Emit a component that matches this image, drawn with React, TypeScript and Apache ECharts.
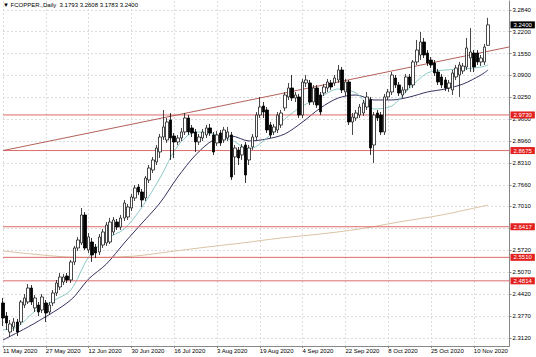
import React, { useEffect, useRef } from 'react';
import * as echarts from 'echarts';

// ---------- data ----------
const headerText = '\u25BC FCOPPER.,Daily  3.1793 3.2608 3.1783 3.2400';

// trading-day categories (MT4 bars), 11 May 2020 .. 16 Nov 2020, plus empty space on the right
const firstDay = '2020-05-11';
const extraBarDays = ['2020-10-25'];
const barCount = 137;
const totalSlots = 143;

// right axis ticks; the 2.6370 label is hidden under the 2.6417 price tag in the original
const yTicks = [2.312, 2.377, 2.442, 2.507, 2.572, 2.637, 2.702, 2.766, 2.831, 2.896, 2.961, 3.025, 3.09, 3.155, 3.22, 3.284];
const yTickLabels = ['2.3120', '2.3770', '2.4420', '2.5070', '2.5720', '', '2.7010', '2.7660', '2.8310', '2.8960', '2.9600', '3.0250', '3.0900', '3.1550', '3.2200', '3.2840'];
const yMin = 2.2883;
const yMax = 3.3107;

// horizontal support / resistance levels
const levels = [2.973, 2.8675, 2.6417, 2.551, 2.4814];
const lastPrice = 3.24;
// trend line: [barIndex, price] at both ends
const trendStart: [number, number] = [0, 2.8674];
const trendEnd: [number, number] = [142, 3.1747];

// daily bars: [open, high, low, close]
const ohlc: number[][] = [
  [2.4158, 2.4306, 2.3476, 2.3713],
  [2.3772, 2.3891, 2.3358, 2.3565],
  [2.3298, 2.3654, 2.315, 2.3535],
  [2.3446, 2.3713, 2.3328, 2.3594],
  [2.3594, 2.3683, 2.318, 2.3298],
  [2.3594, 2.4246, 2.3506, 2.4187],
  [2.4098, 2.4424, 2.401, 2.4306],
  [2.4187, 2.4721, 2.4128, 2.4602],
  [2.4602, 2.4691, 2.4098, 2.4187],
  [2.401, 2.4395, 2.3891, 2.4306],
  [2.4098, 2.4187, 2.3772, 2.3891],
  [2.395, 2.4424, 2.3861, 2.4335],
  [2.4158, 2.4246, 2.3594, 2.3861],
  [2.3891, 2.4187, 2.3802, 2.4098],
  [2.4158, 2.4543, 2.4069, 2.4454],
  [2.4454, 2.4839, 2.4365, 2.475],
  [2.4632, 2.5046, 2.4543, 2.4928],
  [2.478, 2.5017, 2.4691, 2.4928],
  [2.4958, 2.5046, 2.475, 2.4839],
  [2.4839, 2.5432, 2.475, 2.5373],
  [2.5373, 2.5847, 2.5284, 2.5788],
  [2.5788, 2.6114, 2.5699, 2.6025],
  [2.5936, 2.6973, 2.5876, 2.6766],
  [2.6766, 2.6854, 2.5728, 2.5788],
  [2.5728, 2.6232, 2.5639, 2.6114],
  [2.5965, 2.6084, 2.5373, 2.558],
  [2.5817, 2.5906, 2.5491, 2.5639],
  [2.5669, 2.6202, 2.558, 2.6114],
  [2.5876, 2.6351, 2.5788, 2.6262],
  [2.5936, 2.6558, 2.5847, 2.6469],
  [2.5965, 2.6677, 2.5906, 2.6558],
  [2.6262, 2.6706, 2.6173, 2.6617],
  [2.6558, 2.6647, 2.6321, 2.641],
  [2.641, 2.6766, 2.6321, 2.6677],
  [2.6677, 2.721, 2.6588, 2.7121],
  [2.6706, 2.7091, 2.6617, 2.7003],
  [2.6973, 2.7388, 2.6884, 2.7299],
  [2.7269, 2.7655, 2.718, 2.7566],
  [2.7595, 2.7684, 2.7358, 2.7447],
  [2.7447, 2.7536, 2.7003, 2.721],
  [2.7269, 2.7921, 2.718, 2.7862],
  [2.7803, 2.8247, 2.7714, 2.8158],
  [2.8099, 2.8485, 2.801, 2.8396],
  [2.8336, 2.884, 2.8247, 2.8751],
  [2.8633, 2.9166, 2.8455, 2.9077],
  [2.9077, 2.9877, 2.8989, 2.9374],
  [2.8989, 2.964, 2.89, 2.9522],
  [2.9581, 2.9788, 2.8396, 2.9048],
  [2.9107, 2.9196, 2.8455, 2.8929],
  [2.8929, 2.9137, 2.884, 2.9048],
  [2.9048, 2.9344, 2.8959, 2.9226],
  [2.9226, 2.9788, 2.9137, 2.964],
  [2.964, 2.9729, 2.9137, 2.9226],
  [2.9344, 2.9433, 2.9077, 2.9196],
  [2.9226, 2.9314, 2.8633, 2.8929],
  [2.8929, 2.9166, 2.884, 2.9077],
  [2.9048, 2.9314, 2.8959, 2.9226],
  [2.9137, 2.9433, 2.9048, 2.9344],
  [2.9344, 2.9463, 2.9107, 2.9196],
  [2.9137, 2.9226, 2.8544, 2.8633],
  [2.89, 2.9255, 2.8811, 2.9137],
  [2.9196, 2.9285, 2.8811, 2.89],
  [2.8989, 2.9374, 2.89, 2.9285],
  [2.9048, 2.9374, 2.8959, 2.9226],
  [2.9137, 2.9226, 2.7803, 2.7892],
  [2.8485, 2.884, 2.7951, 2.8751],
  [2.8692, 2.8781, 2.8247, 2.8455],
  [2.8544, 2.887, 2.8396, 2.8781],
  [2.884, 2.8929, 2.7714, 2.7951],
  [2.8396, 2.884, 2.8247, 2.8751],
  [2.8781, 2.9166, 2.8692, 2.9077],
  [2.9077, 2.9818, 2.8989, 2.9729],
  [2.9729, 3.0263, 2.964, 2.9966],
  [2.9996, 3.0114, 2.964, 2.9818],
  [2.9877, 2.9966, 2.9196, 2.9285],
  [2.9433, 2.9522, 2.9048, 2.9137],
  [2.9226, 2.9463, 2.9137, 2.9374],
  [2.9285, 2.9818, 2.9196, 2.9729],
  [2.9433, 2.9877, 2.9344, 2.9788],
  [2.9937, 3.0411, 2.9848, 3.0322],
  [3.0263, 3.0677, 3.0174, 3.0529],
  [3.0529, 3.0914, 3.0144, 3.0233],
  [3.0233, 3.0411, 3.0114, 3.0322],
  [3.0263, 3.0351, 2.964, 2.9729],
  [2.9729, 3.0796, 2.964, 3.0707],
  [3.0677, 3.0914, 3.0559, 3.0766],
  [3.0677, 3.0766, 3.0025, 3.0114],
  [3.0114, 3.0618, 3.0025, 3.0529],
  [3.0529, 3.0618, 2.9937, 3.0025],
  [3.0322, 3.0411, 2.9729, 2.9818],
  [3.0381, 3.0648, 3.0292, 3.0559],
  [3.0529, 3.0796, 3.0411, 3.0707],
  [3.0677, 3.0766, 3.047, 3.0559],
  [3.0677, 3.0914, 3.0589, 3.0826],
  [3.0766, 3.1211, 3.0677, 3.1063],
  [3.1063, 3.1151, 3.0381, 3.047],
  [3.0411, 3.0796, 3.0292, 3.0707],
  [3.0707, 3.0766, 2.9433, 2.9522],
  [2.9522, 2.9788, 2.9137, 2.967],
  [2.964, 2.9877, 2.9551, 2.9788],
  [2.9729, 3.0055, 2.964, 2.9966],
  [2.9788, 3.0174, 2.97, 3.0085],
  [2.9966, 3.0411, 2.9877, 3.0263],
  [3.0174, 3.0263, 2.8544, 2.8751],
  [2.884, 2.9818, 2.8307, 2.9729],
  [2.9788, 2.9877, 2.9551, 2.964],
  [2.9729, 2.9818, 2.9137, 2.9226],
  [2.9226, 3.0351, 2.9137, 3.0263],
  [3.0263, 3.05, 3.0174, 3.0411],
  [3.0411, 3.1003, 3.0322, 3.0914],
  [3.0826, 3.0914, 3.0529, 3.0618],
  [3.0618, 3.0707, 3.0292, 3.0381],
  [3.0322, 3.0559, 3.0233, 3.047],
  [3.047, 3.0944, 3.0381, 3.0855],
  [3.0855, 3.0944, 3.0529, 3.0618],
  [3.0618, 3.1359, 3.0529, 3.13],
  [3.13, 3.1952, 3.1211, 3.1655],
  [3.1507, 3.2189, 3.1359, 3.1892],
  [3.1892, 3.2011, 3.1418, 3.1507],
  [3.1566, 3.1655, 3.1181, 3.127],
  [3.1359, 3.1448, 3.1122, 3.1211],
  [3.127, 3.1359, 3.0885, 3.0974],
  [3.1003, 3.1092, 3.0618, 3.0707],
  [3.0855, 3.0944, 3.0529, 3.0618],
  [3.0766, 3.0855, 3.044, 3.0529],
  [3.0529, 3.0766, 3.0411, 3.0677],
  [3.047, 3.1063, 3.0322, 3.0974],
  [3.0855, 3.1211, 3.0766, 3.1122],
  [3.0914, 3.13, 3.0263, 3.1211],
  [3.1033, 3.127, 3.0944, 3.1181],
  [3.1151, 3.2011, 3.1063, 3.1715],
  [3.1418, 3.2307, 3.1003, 3.1596],
  [3.1566, 3.1655, 3.1003, 3.1151],
  [3.1566, 3.1655, 3.1211, 3.13],
  [3.13, 3.1507, 3.1181, 3.1418],
  [3.13, 3.1833, 3.1211, 3.1744],
  [3.1793, 3.2608, 3.1783, 3.24],
];

// moving averages: [barIndex, value]
const maFast: [number, number][] = [
  [0, 2.3358], [4, 2.3446], [9, 2.392], [14, 2.4217], [19, 2.4543], [24, 2.5521], [29, 2.6055],
  [34, 2.6351], [39, 2.7003], [44, 2.7862], [49, 2.8811], [54, 2.9226], [59, 2.9166], [64, 2.8989],
  [69, 2.8722], [74, 2.9048], [79, 2.9611], [84, 2.9996], [89, 3.0263], [94, 3.05], [99, 3.0381],
  [104, 2.9907], [109, 2.9996], [114, 3.0529], [119, 3.0974], [124, 3.1063], [129, 3.1092],
  [134, 3.1151], [136, 3.1211],
];
const maSlow: [number, number][] = [
  [0, 2.3061], [9, 2.3565], [19, 2.4246], [24, 2.4869], [29, 2.5313], [34, 2.5936], [39, 2.6528],
  [44, 2.7121], [49, 2.7892], [54, 2.8544], [59, 2.8989], [64, 2.9107], [69, 2.8959], [74, 2.9018],
  [79, 2.9166], [84, 2.9522], [89, 2.9937], [94, 3.0233], [99, 3.0322], [104, 3.0174], [109, 3.0174],
  [114, 3.0263], [119, 3.0411], [124, 3.05], [129, 3.0648], [134, 3.0914], [136, 3.1063],
];
const ma200: [number, number][] = [
  [0, 2.5699], [8, 2.561], [18, 2.5521], [27, 2.5506], [37, 2.555], [44, 2.5639], [55, 2.5788],
  [67, 2.5936], [78, 2.6084], [89, 2.6202], [100, 2.6351], [111, 2.6558], [123, 2.6766], [136, 2.7062],
];

// ---------- helpers ----------
const MONTHS = ['Jan', 'Feb', 'Mar', 'Apr', 'May', 'Jun', 'Jul', 'Aug', 'Sep', 'Oct', 'Nov', 'Dec'];
function buildDates(): string[] {
  const out: string[] = [];
  const d = new Date(firstDay + 'T12:00:00Z');
  while (out.length < totalSlots) {
    const iso = d.toISOString().slice(0, 10);
    const wd = d.getUTCDay();
    if ((wd !== 0 && wd !== 6) || extraBarDays.includes(iso)) {
      out.push(`${d.getUTCDate()} ${MONTHS[d.getUTCMonth()]} ${d.getUTCFullYear()}`);
    }
    d.setUTCDate(d.getUTCDate() + 1);
  }
  return out;
}

const FONT = 'Liberation Sans, Arial, sans-serif';
const LEVEL_RED = '#dd6a6a';
const LAST_SLOT = totalSlots - 1;

function tag(text: string, bg: string) {
  return {
    show: true,
    distance: 1,
    formatter: text,
    color: '#ffffff',
    backgroundColor: bg,
    fontSize: 6,
    fontFamily: FONT,
    padding: [1, 3, 0, 3],
    lineHeight: 6,
  };
}

export default function App() {
  const ref = useRef<HTMLDivElement>(null);
  useEffect(() => {
    if (!ref.current) return;
    const chart = echarts.init(ref.current, undefined, { renderer: 'svg' });
    const dates = buildDates();
    const candleData = ohlc.map(([o, h, l, c]) => [o, c, l, h]);
    const labelEvery = (i: number) => i % 12 === 0 && i < barCount;

    const levelSeries = levels.map((v) => ({
      type: 'line',
      data: [[0, v], [LAST_SLOT, v]],
      showSymbol: false,
      silent: true,
      z: 4,
      lineStyle: { color: LEVEL_RED, width: 1, type: 'solid' },
      itemStyle: { color: LEVEL_RED },
      endLabel: tag(v.toFixed(4), '#e3211f'),
    }));

    chart.setOption({
      animation: false,
      backgroundColor: '#ffffff',
      grid: { left: 2, right: 26.5, top: 1, bottom: 11, containLabel: false },
      graphic: [
        {
          type: 'text',
          left: 3,
          top: 2,
          z: 100,
          style: { text: headerText, fontSize: 6, fontFamily: FONT, fill: '#000' },
        },
      ],
      xAxis: {
        type: 'category',
        data: dates,
        boundaryGap: false,
        axisLine: { show: true, lineStyle: { color: '#888', width: 1 } },
        axisTick: { show: true, interval: (i: number) => labelEvery(i), length: 2, lineStyle: { color: '#888' } },
        axisLabel: {
          interval: (i: number) => labelEvery(i),
          align: 'left',
          margin: 2,
          fontSize: 6,
          fontFamily: FONT,
          color: '#000',
          hideOverlap: false,
        },
        splitLine: {
          show: true,
          interval: (i: number) => labelEvery(i),
          lineStyle: { color: '#dcdcdc', type: [2, 2], width: 1 },
        },
      },
      yAxis: {
        type: 'value',
        position: 'right',
        min: yMin,
        max: yMax,
        scale: true,
        axisLine: { show: true, lineStyle: { color: '#888', width: 1 } },
        axisTick: { show: true, length: 2, customValues: yTicks, lineStyle: { color: '#888' } },
        axisLabel: {
          customValues: yTicks,
          margin: 3,
          fontSize: 6,
          fontFamily: FONT,
          color: '#000',
          formatter: (v: number) => {
            const idx = yTicks.findIndex((t) => Math.abs(t - v) < 1e-6);
            return idx >= 0 ? yTickLabels[idx] : '';
          },
        },
        splitLine: { show: true, lineStyle: { color: '#dcdcdc', type: [2, 2], width: 1 } },
      },
      series: [
        ...levelSeries,
        {
          type: 'line',
          data: [trendStart, trendEnd],
          showSymbol: false,
          silent: true,
          z: 4,
          lineStyle: { color: '#b4605a', width: 1, type: 'solid' },
          itemStyle: { color: '#b4605a' },
        },
        {
          type: 'line',
          data: [[0, lastPrice], [LAST_SLOT, lastPrice]],
          showSymbol: false,
          silent: true,
          z: 6,
          lineStyle: { opacity: 0, width: 0 },
          itemStyle: { color: '#000' },
          endLabel: tag(lastPrice.toFixed(4), '#000000'),
        },
        {
          type: 'line',
          data: ma200,
          showSymbol: false,
          smooth: 0.3,
          lineStyle: { color: '#d9c3a3', width: 1 },
          z: 2,
        },
        {
          type: 'line',
          data: maSlow,
          showSymbol: false,
          smooth: 0.3,
          lineStyle: { color: '#33335f', width: 1 },
          z: 3,
        },
        {
          type: 'line',
          data: maFast,
          showSymbol: false,
          smooth: 0.3,
          lineStyle: { color: '#8cc8c8', width: 1 },
          z: 3,
        },
        {
          type: 'candlestick',
          data: candleData,
          barWidth: 3,
          clip: false,
          z: 5,
          itemStyle: {
            color: '#ffffff',
            color0: '#000000',
            borderColor: '#1a1a1a',
            borderColor0: '#000000',
            borderWidth: 0.8,
          },
        },
      ],
    });
    return () => chart.dispose();
  }, []);
  return <div ref={ref} style={{ position: 'fixed', left: 0, top: 0, width: 536, height: 357 }} />;
}
